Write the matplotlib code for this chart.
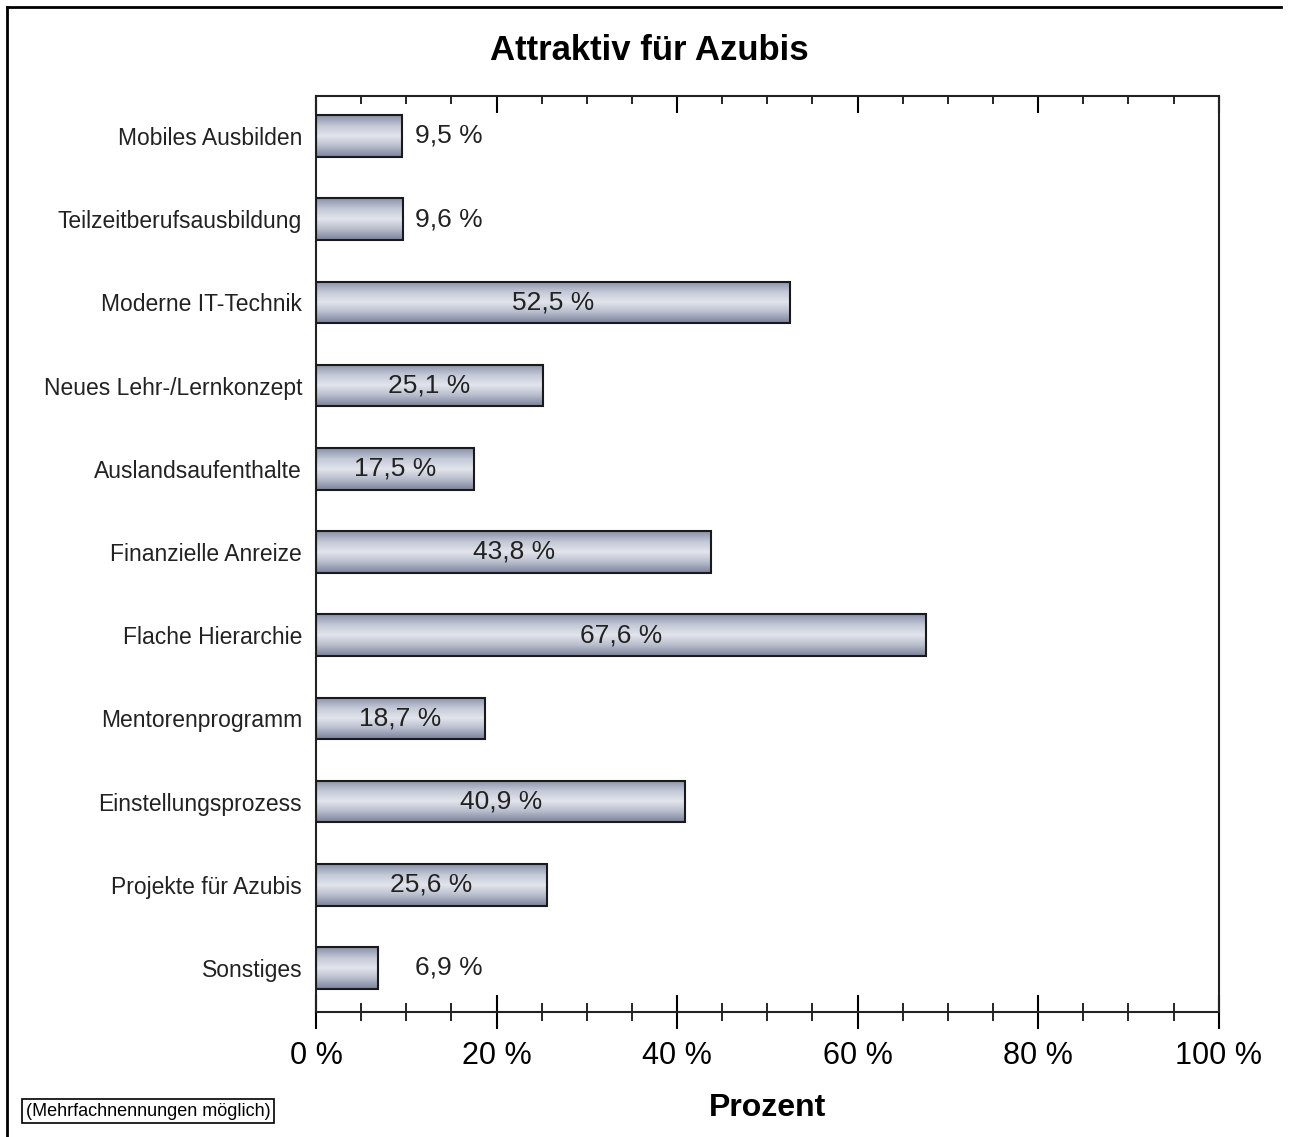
import numpy as np
import matplotlib
matplotlib.use('Agg')
import matplotlib.pyplot as plt
from matplotlib.colors import LinearSegmentedColormap
from matplotlib.lines import Line2D
from matplotlib.ticker import MultipleLocator

plt.rcParams['font.family'] = ['Liberation Sans', 'DejaVu Sans']

# Daten
kategorien = ['Mobiles Ausbilden', 'Teilzeitberufsausbildung', 'Moderne IT-Technik',
              'Neues Lehr-/Lernkonzept', 'Auslandsaufenthalte', 'Finanzielle Anreize',
              'Flache Hierarchie', 'Mentorenprogramm', 'Einstellungsprozess',
              'Projekte für Azubis', 'Sonstiges']
werte = [9.5, 9.6, 52.5, 25.1, 17.5, 43.8, 67.6, 18.7, 40.9, 25.6, 6.9]
xticks = [0, 20, 40, 60, 80, 100]

fig = plt.figure(figsize=(12.9, 11.37), dpi=100)
ax = fig.add_axes([0.245, 0.1099, 0.6997, 0.8057])

# Verlauf für die Balken (dunkel oben/unten, hell in der Mitte)
cmap = LinearSegmentedColormap.from_list('balken', ['#8a91aa', '#c3c8d6', '#e2e5ec', '#b7bccc', '#7c839c'])
grad = np.linspace(0, 1, 64).reshape(-1, 1)

hoehe = 0.5
for i, (kat, w) in enumerate(zip(kategorien, werte)):
    ax.imshow(grad, cmap=cmap, aspect='auto', extent=(0, w, i + hoehe / 2, i - hoehe / 2),
              zorder=2, interpolation='bilinear')
    ax.add_patch(plt.Rectangle((0, i - hoehe / 2), w, hoehe, fill=False,
                               edgecolor='#1a1a1a', linewidth=1.5, zorder=3))
    text = f'{w:.1f} %'.replace('.', ',')
    if w >= 15:
        ax.text(w / 2, i, text, ha='center', va='center', fontsize=19, color='#222222', zorder=4)
    else:
        ax.text(14.7, i, text, ha='center', va='center', fontsize=19, color='#222222', zorder=4)

ax.set_xlim(0, 100)
ax.set_ylim(10.53, -0.48)
ax.set_yticks(range(len(kategorien)))
ax.set_yticklabels(kategorien, fontsize=16.5, color='#222222')
ax.tick_params(axis='y', length=0, pad=10)

ax.set_xticks(xticks)
ax.set_xticklabels([f'{x} %' for x in xticks], fontsize=22)
ax.xaxis.set_minor_locator(MultipleLocator(5))
ax.tick_params(axis='x', which='major', direction='inout', length=24, width=1.5, pad=9,
               top=True, labeltop=False)
ax.tick_params(axis='x', which='minor', direction='inout', length=13, width=1.2, top=True)

# obere Ticks nach innen
for t in ax.xaxis.get_major_ticks():
    t.tick2line.set_marker(3)
    t.tick2line.set_markersize(12)
for t in ax.xaxis.get_minor_ticks():
    t.tick2line.set_marker(3)
    t.tick2line.set_markersize(6)

for s in ax.spines.values():
    s.set_linewidth(1.5)
    s.set_color('#222222')

ax.set_xlabel('Prozent', fontsize=23, fontweight='bold', labelpad=16)

fig.text(649 / 1290, 1 - 51 / 1137, 'Attraktiv für Azubis', ha='center', va='center',
         fontsize=25, fontweight='bold')

fig.text(148 / 1290, 1 - 1111 / 1137, '(Mehrfachnennungen möglich)', ha='center', va='center',
         fontsize=13, bbox=dict(boxstyle='square,pad=0.2', facecolor='white',
                                 edgecolor='black', linewidth=1.2))

# Rahmen links und oben
fig.add_artist(Line2D([7 / 1290, 7 / 1290], [0, 1 - 7 / 1137], color='black', linewidth=2))
fig.add_artist(Line2D([7 / 1290, 1281 / 1290], [1 - 7 / 1137, 1 - 7 / 1137], color='black', linewidth=2))

plt.savefig('out.png', dpi=100)
plt.close()
